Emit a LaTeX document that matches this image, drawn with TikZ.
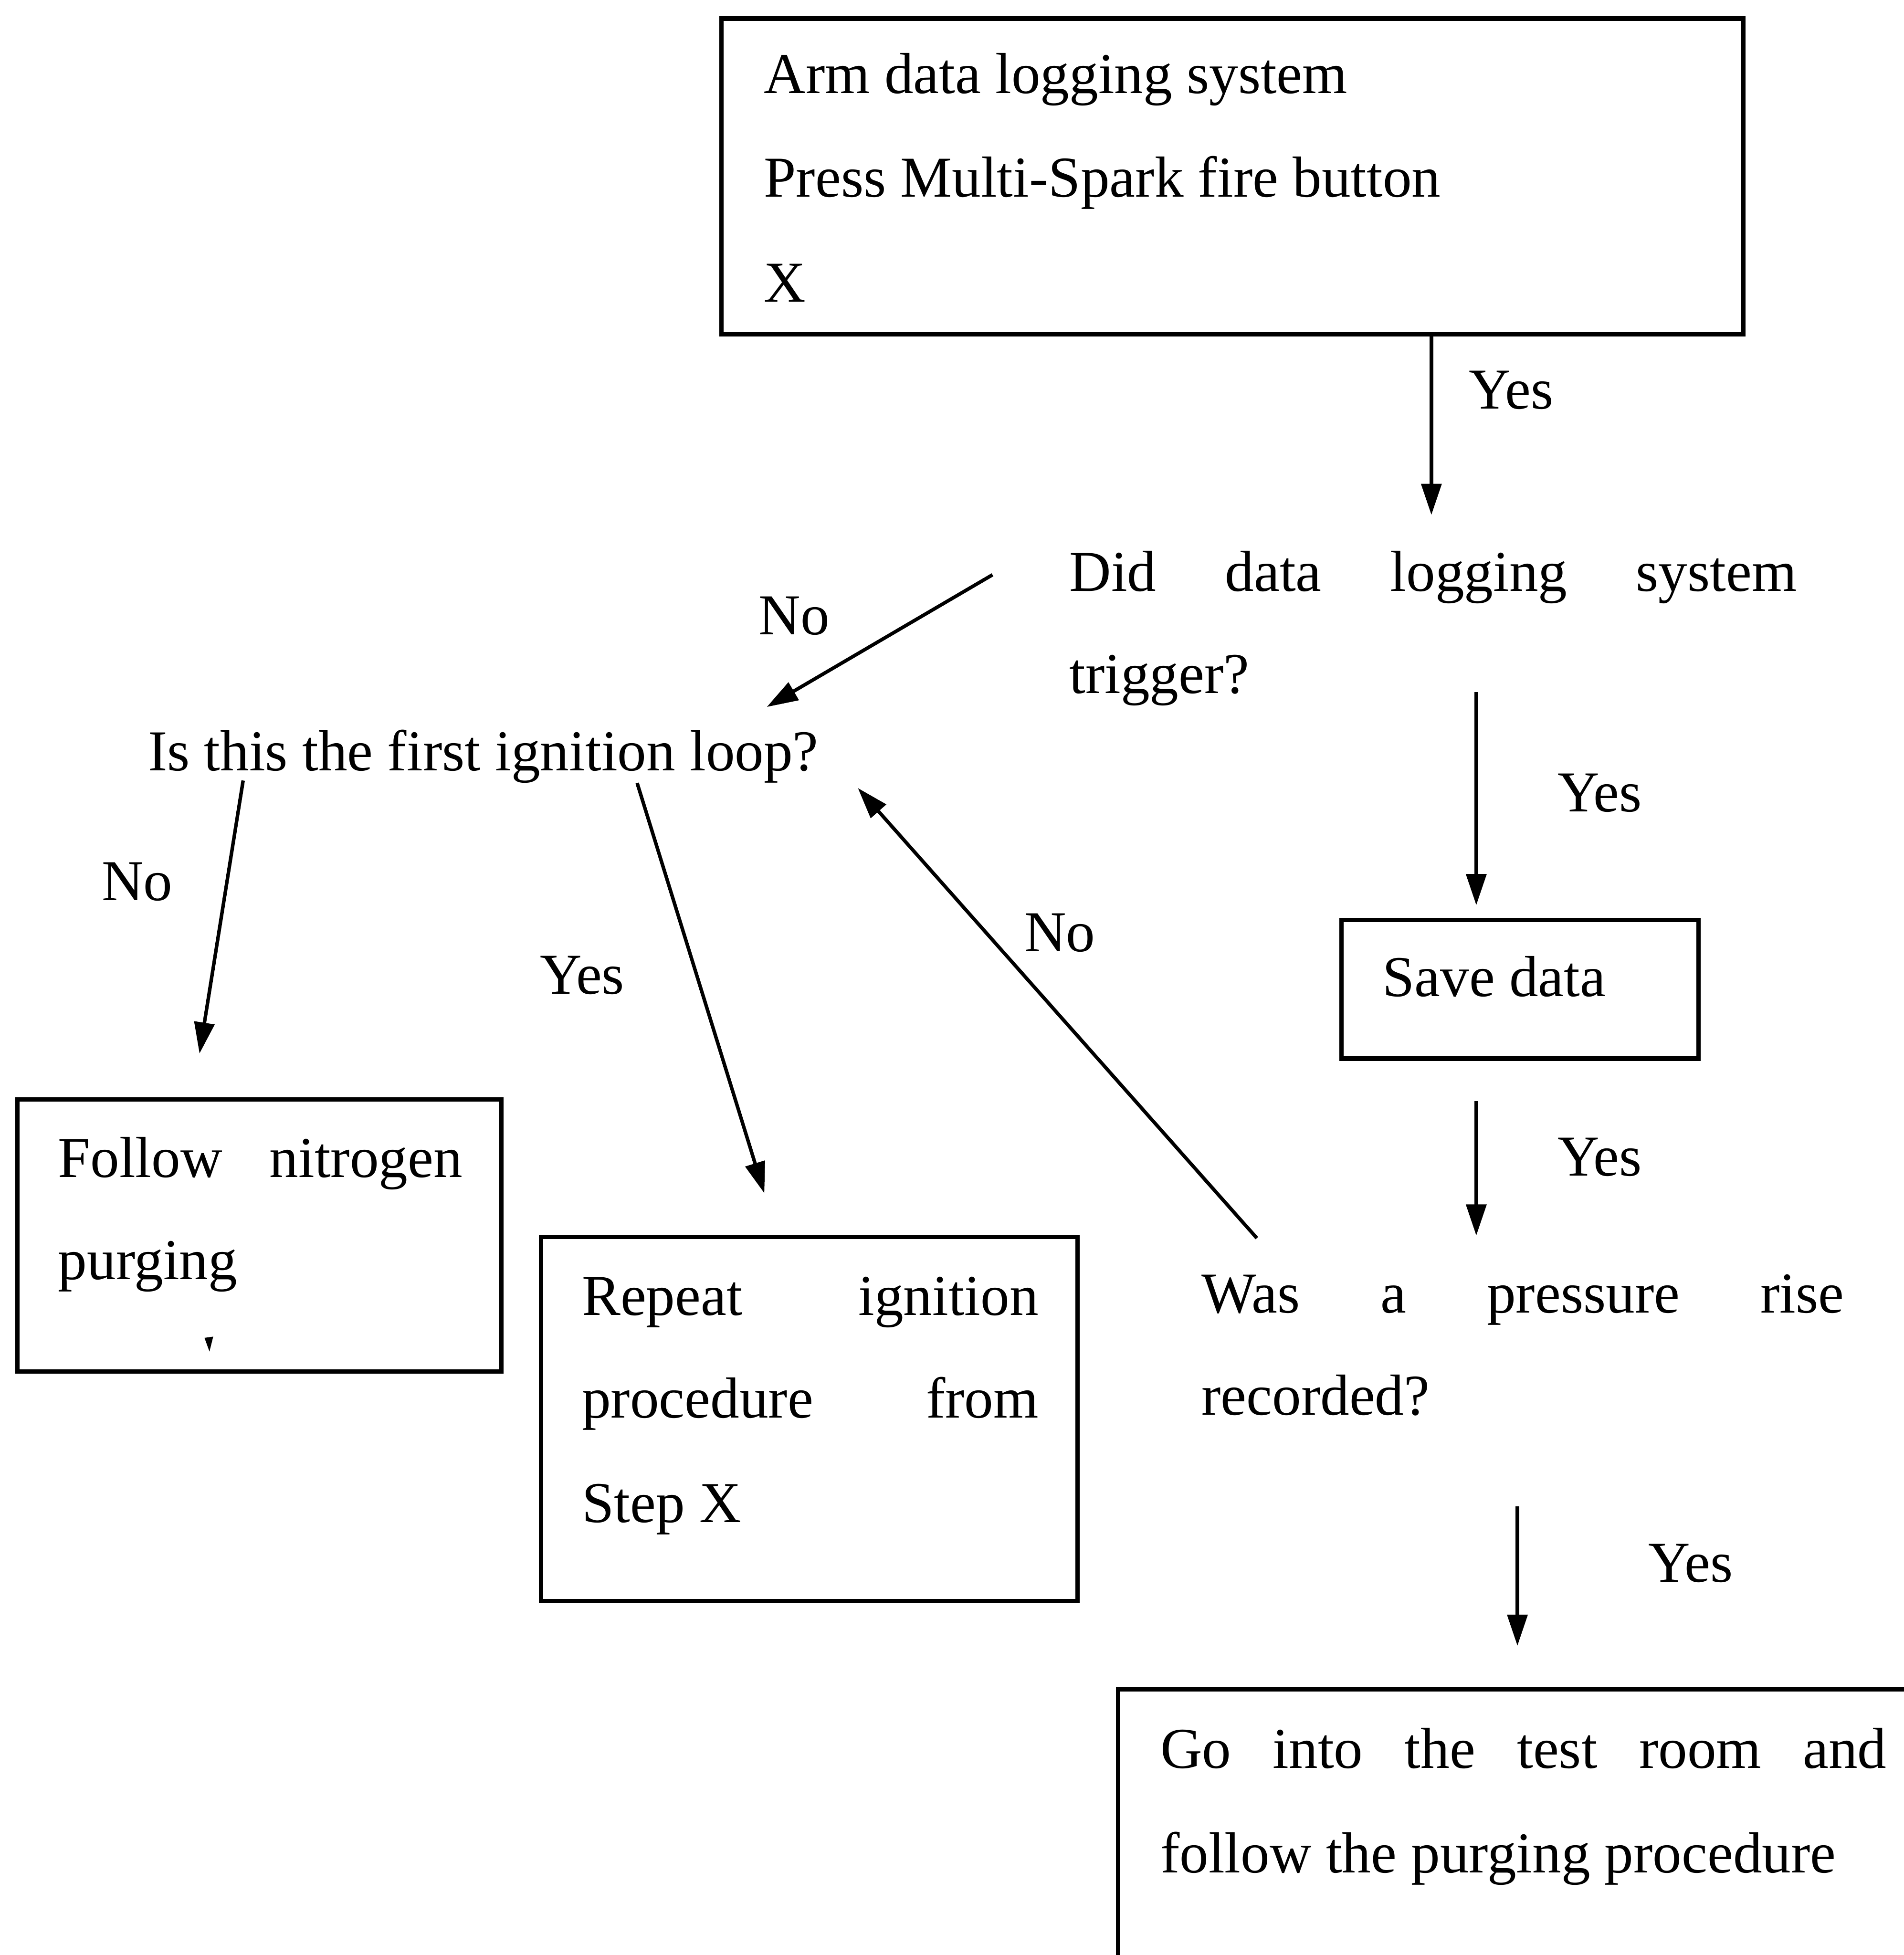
\documentclass[tikz,border=0pt]{standalone}
\usepackage{fontspec}
\setmainfont{Liberation Serif}
\usetikzlibrary{arrows.meta}
\tikzset{
  box/.style={draw, rectangle, line width=1pt, inner sep=0pt},
  txt/.style={inner sep=0pt, anchor=base west, font=\fontsize{13.2}{16}\selectfont},
  lbl/.style={inner sep=0pt, anchor=base, font=\fontsize{13.2}{16}\selectfont},
  arr/.style={-{Triangle[length=0.25cm,width=0.16cm]}, line width=0.8pt},
}
\begin{document}
\begin{tikzpicture}[x=0.01cm, y=-0.01cm]
\useasboundingbox (0,0) rectangle (1527,1568);

% boxes
\node[box, minimum width=8.19cm, minimum height=2.53cm] (arm) at (988.5,141.5) {};
\node[box, minimum width=2.86cm, minimum height=1.11cm] (save) at (1219,793.5) {};
\node[box, minimum width=3.88cm, minimum height=2.18cm] (follow) at (208,991) {};
\node[box, minimum width=4.30cm, minimum height=2.92cm] (repeat) at (649,1138) {};
\node[box, minimum width=6.63cm, minimum height=2.45cm] (go) at (1228.5,1477.5) {};

% texts
\node[txt] (t1) at (612,75) {Arm data logging system};
\node[txt] (t2) at (612,158) {Press Multi-Spark fire button};
\node[txt] (t3) at (612,242) {X};

\node[txt] (d1) at (857,474) {\makebox[5.83cm][s]{Did data logging system}};
\node[txt] (d2) at (857,556) {trigger?};

\node[txt] (q1) at (118,618) {Is this the first ignition loop?};

\node[txt] (s1) at (1108,799) {Save data};

\node[txt] (f1) at (46,944) {\makebox[3.24cm][s]{Follow nitrogen}};
\node[txt] (f2) at (46,1026) {purging};
\fill (164,1073) -- (171,1072) -- (168,1084) -- cycle;

\node[txt] (r1) at (466,1055) {\makebox[3.66cm][s]{Repeat ignition}};
\node[txt] (r2) at (466,1137) {\makebox[3.66cm][s]{procedure from}};
\node[txt] (r3) at (466,1221) {Step X};

\node[txt] (w1) at (963,1053) {\makebox[5.15cm][s]{Was a pressure rise}};
\node[txt] (w2) at (963,1135) {recorded?};

\node[txt] (g1) at (930,1418) {\makebox[5.82cm][s]{Go into the test room and}};
\node[txt] (g2) at (930,1502) {follow the purging procedure};

% labels
\node[lbl] (l1) at (1212,328) {Yes};
\node[lbl] (l2) at (637,509) {No};
\node[lbl] (l3) at (1283,651) {Yes};
\node[lbl] (l4) at (110,722) {No};
\node[lbl] (l5) at (467,797) {Yes};
\node[lbl] (l6) at (850,763) {No};
\node[lbl] (l7) at (1283,943) {Yes};
\node[lbl] (l8) at (1356,1269) {Yes};

% arrow end points
\coordinate (a1s) at (1148,268);  \coordinate (a1e) at (1148,413);
\coordinate (a2s) at (796,461);   \coordinate (a2e) at (615,567);
\coordinate (a3s) at (1184,555);  \coordinate (a3e) at (1184,726);
\coordinate (a4s) at (195,626);   \coordinate (a4e) at (160,845);
\coordinate (a5s) at (511,628);   \coordinate (a5e) at (613,957);
\coordinate (a6s) at (1008,993);  \coordinate (a6e) at (688,632);
\coordinate (a7s) at (1184,883);  \coordinate (a7e) at (1184,991);
\coordinate (a8s) at (1217,1208); \coordinate (a8e) at (1217,1320);

\draw[arr] (a1s) -- (a1e);
\draw[arr] (a2s) -- (a2e);
\draw[arr] (a3s) -- (a3e);
\draw[arr] (a4s) -- (a4e);
\draw[arr] (a5s) -- (a5e);
\draw[arr] (a6s) -- (a6e);
\draw[arr] (a7s) -- (a7e);
\draw[arr] (a8s) -- (a8e);
\end{tikzpicture}
\end{document}
